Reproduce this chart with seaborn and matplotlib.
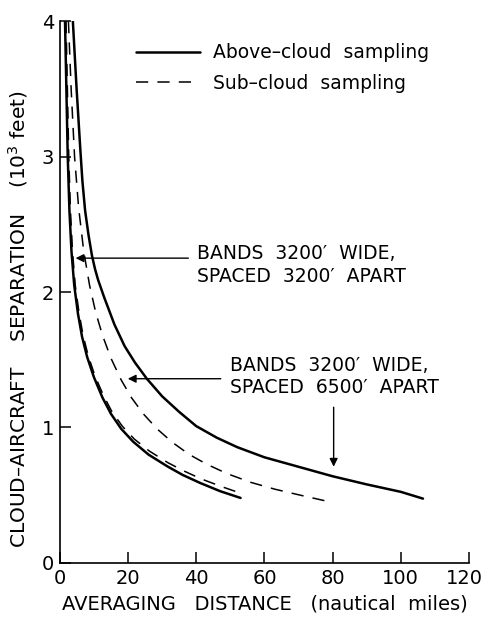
import matplotlib
matplotlib.use("Agg")
import matplotlib.pyplot as plt
from matplotlib.lines import Line2D
import seaborn as sns

# Curves: averaging distance (n mi) vs separation (10^3 ft)
# Bands 3200' wide, spaced 3200' apart
near_above_x = [1.5, 1.9, 2.3, 2.8, 3.4, 4.2, 5.3, 6.5, 8.0, 10.0, 12.5, 15.0, 18.0, 21.5,
                26.0, 31.4, 36.0, 41.2, 47.0, 53.0]
near_above_y = [4.0, 3.5, 3.0, 2.6, 2.3, 2.05, 1.84, 1.67, 1.52, 1.37, 1.22, 1.10, 0.99, 0.895,
                0.80, 0.715, 0.65, 0.59, 0.53, 0.48]
near_sub_x = [1.8, 2.2, 2.6, 3.1, 3.7, 4.5, 5.6, 6.8, 8.3, 10.3, 12.8, 15.3, 18.3, 21.8,
              26.3, 31.7, 36.3, 41.5, 47.3, 53.0]
near_sub_y = [4.0, 3.5, 3.0, 2.6, 2.3, 2.05, 1.85, 1.68, 1.53, 1.38, 1.235, 1.115, 1.01, 0.915,
              0.825, 0.74, 0.68, 0.62, 0.565, 0.515]

# Bands 3200' wide, spaced 6500' apart
far_above_x = [3.8, 4.9, 6.0, 6.6, 7.4, 8.4, 9.4, 10.3, 11.2, 13.0, 16.0, 19.0, 22.0, 25.5,
               30.0, 35.0, 40.0, 46.0, 52.0, 60.0, 70.0, 80.0, 90.0, 100.0, 106.5]
far_above_y = [4.0, 3.5, 3.05, 2.82, 2.6, 2.42, 2.27, 2.17, 2.09, 1.96, 1.76, 1.60, 1.48, 1.36,
               1.23, 1.115, 1.01, 0.925, 0.855, 0.78, 0.71, 0.64, 0.58, 0.525, 0.475]
far_sub_x = [2.5, 3.3, 4.3, 5.5, 7.0, 8.7, 10.5, 12.5, 15.0, 18.0, 21.0, 24.5, 28.5, 33.0,
             38.0, 43.0, 49.0, 56.0, 63.0, 70.6, 78.5]
far_sub_y = [4.0, 3.5, 3.0, 2.62, 2.3, 2.05, 1.85, 1.68, 1.51, 1.35, 1.22, 1.10, 0.99, 0.89,
             0.80, 0.73, 0.66, 0.595, 0.545, 0.50, 0.455]

x_ticks = [0, 20, 40, 60, 80, 100, 120]
x_tick_labels = ["0", "20", "40", "60", "80", "100", "120"]
y_ticks = [0, 1, 2, 3, 4]

sns.set_style("ticks")
plt.rcParams["font.family"] = ["DejaVu Sans"]
plt.rcParams["text.color"] = "black"
plt.rcParams["axes.labelcolor"] = "black"

fig = plt.figure(figsize=(4.83, 6.19), dpi=100)
ax = fig.add_axes([0.124, 0.0905, 0.847, 0.8755])

solid = dict(color="black", lw=1.8, estimator=None, sort=False)
dashed = dict(color="black", lw=1.1, linestyle=(0, (8, 6)), estimator=None, sort=False)

sns.lineplot(x=near_above_x, y=near_above_y, ax=ax, **solid)
sns.lineplot(x=near_sub_x, y=near_sub_y, ax=ax, **dashed)
sns.lineplot(x=far_above_x, y=far_above_y, ax=ax, **solid)
sns.lineplot(x=far_sub_x, y=far_sub_y, ax=ax, **dashed)

ax.set_xlim(0, 120)
ax.set_ylim(0, 4)
ax.set_xticks(x_ticks)
# last label drawn by hand below so it is not cut at the right edge
ax.set_xticklabels(x_tick_labels[:-1] + [""])
ax.set_yticks(y_ticks)
ax.tick_params(axis="both", direction="in", length=8, width=1.1, labelsize=14,
               colors="black", pad=4)
ax.annotate(x_tick_labels[-1], xy=(x_ticks[-1], 0), xycoords=("data", "axes fraction"),
            xytext=(-3, -4), textcoords="offset points", ha="center", va="top",
            fontsize=14)
sns.despine(ax=ax)
for side in ("left", "bottom"):
    ax.spines[side].set_linewidth(1.2)
    ax.spines[side].set_color("black")

ax.set_xlabel("AVERAGING   DISTANCE   (nautical  miles)", fontsize=14, labelpad=5)
ax.set_ylabel("CLOUD\u2013AIRCRAFT    SEPARATION    (10$^3$ feet)", fontsize=14.5)
ax.yaxis.set_label_coords(-0.072, 0.45)

# legend
handles = [Line2D([], [], color="black", lw=1.8),
           Line2D([], [], color="black", lw=1.1, linestyle=(0, (8, 6)))]
ax.legend(handles, ["Above\u2013cloud  sampling", "Sub\u2013cloud  sampling"],
          loc="upper left", bbox_to_anchor=(0.145, 0.99), frameon=False,
          fontsize=13.5, handlelength=3.4, handletextpad=0.7, labelspacing=0.6)

# annotations
arrow = dict(arrowstyle="-|>", color="black", lw=1.0, mutation_scale=12)
ax.annotate("", xy=(3.8, 2.25), xytext=(38.5, 2.25), arrowprops=arrow)
ax.text(40.3, 2.20, "BANDS  3200\u2032  WIDE,\nSPACED  3200\u2032  APART", fontsize=13.5,
        va="center", ha="left", linespacing=1.25)

ax.annotate("", xy=(19.1, 1.36), xytext=(48, 1.36), arrowprops=arrow)
ax.text(50, 1.376, "BANDS  3200\u2032  WIDE,\nSPACED  6500\u2032  APART", fontsize=13.5,
        va="center", ha="left", linespacing=1.25)

ax.annotate("", xy=(80.3, 0.69), xytext=(80.3, 1.17), arrowprops=arrow)

fig.savefig("out.png", dpi=100)
